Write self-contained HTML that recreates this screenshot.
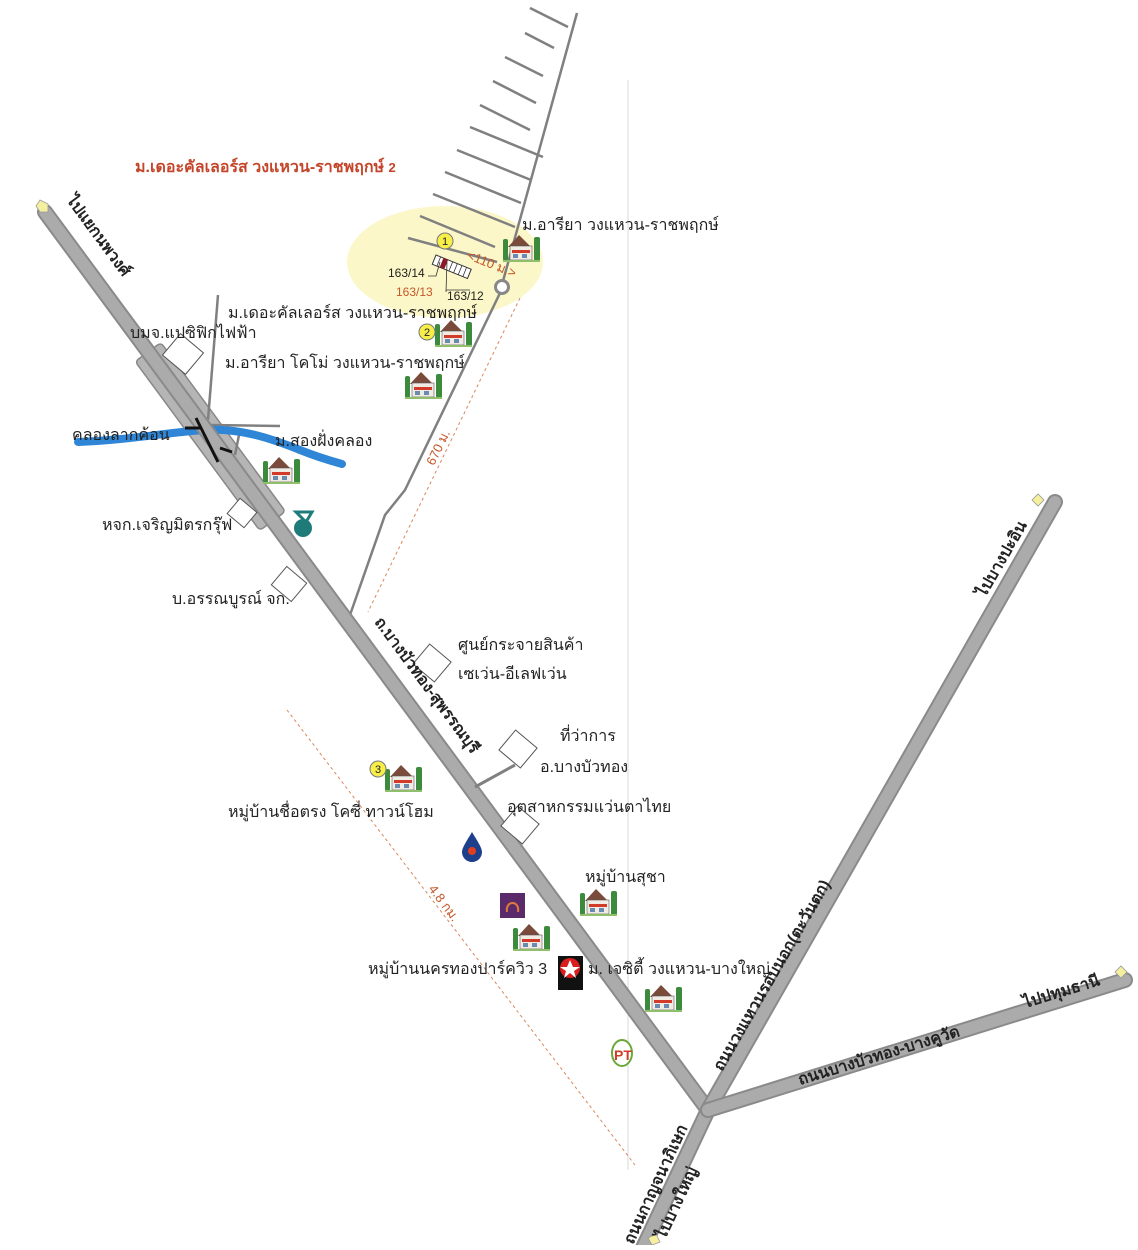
<!DOCTYPE html>
<html><head><meta charset="utf-8"><style>
html,body{margin:0;padding:0;background:#fff}
svg text{font-family:"Liberation Sans","Noto Sans CJK SC",sans-serif;fill:#222}
</style></head><body>
<svg width="1138" height="1245" viewBox="0 0 1138 1245" xmlns="http://www.w3.org/2000/svg">
<defs>
<g id="house">
<rect x="0" y="6" width="5" height="22" rx="2" fill="#3c8a3c"/>
<rect x="31" y="4" width="6" height="24" rx="2" fill="#3c8a3c"/>
<polygon points="5,14 16,2 28,14" fill="#7a4a3a"/>
<rect x="7" y="13" width="22" height="14" fill="#f0ece4" stroke="#555" stroke-width="0.6"/>
<rect x="9" y="17" width="18" height="3" fill="#d23a2a"/>
<rect x="10" y="21" width="5" height="4" fill="#6a8ab0"/>
<rect x="19" y="21" width="5" height="4" fill="#6a8ab0"/>
<rect x="0" y="27" width="37" height="2" fill="#8fbf6a"/>
</g>
</defs>

<line x1="628" y1="80" x2="628" y2="1170" stroke="#d8d8d8" stroke-width="1"/>

<ellipse cx="445" cy="262" rx="98" ry="56" fill="#fbf7c8"/>

<g stroke="#808080" stroke-width="2.5" fill="none">
<polyline points="350,615 385,515 405,490 500,293"/>
<line x1="503" y1="281" x2="577" y2="13"/>
<line x1="530" y1="8" x2="568" y2="27"/>
<line x1="525" y1="33" x2="554" y2="48"/>
<line x1="505" y1="57" x2="543" y2="76"/>
<line x1="493" y1="81" x2="536" y2="103"/>
<line x1="480" y1="105" x2="530" y2="130"/>
<line x1="470" y1="127" x2="543" y2="157"/>
<line x1="457" y1="150" x2="531" y2="180"/>
<line x1="445" y1="172" x2="521" y2="203"/>
<line x1="433" y1="194" x2="515" y2="227"/>
<line x1="420" y1="216" x2="495" y2="247"/>
<line x1="408" y1="238" x2="497" y2="262"/>
</g>
<circle cx="502" cy="287" r="6.5" fill="#fff" stroke="#888" stroke-width="3"/>
<g transform="translate(436,255) rotate(22)">
<rect x="0" y="0" width="38" height="10" fill="#fff" stroke="#333" stroke-width="1"/>
<rect x="8" y="0" width="5" height="10" fill="#8a1a2a"/>
<g stroke="#333" stroke-width="0.8"><line x1="18" y1="0" x2="18" y2="10"/><line x1="23" y1="0" x2="23" y2="10"/><line x1="28" y1="0" x2="28" y2="10"/><line x1="33" y1="0" x2="33" y2="10"/><line x1="5" y1="0" x2="5" y2="10"/></g>
</g>
<g stroke="#333" stroke-width="0.8" fill="none">
<polyline points="428,276 436,276 440,262"/>
<line x1="447" y1="262" x2="446" y2="292"/>
<line x1="446" y1="290" x2="470" y2="290"/>
</g>
<text x="388" y="277" font-size="12">163/14</text>
<text x="396" y="296" font-size="12" style="fill:#c4572a">163/13</text>
<text x="447" y="300" font-size="12">163/12</text>
<text x="465" y="264" font-size="13" style="fill:#c4572a" transform="rotate(22 480 264)">&lt;110 ม.&gt;</text>

<g stroke="#d9885a" stroke-width="1" stroke-dasharray="3,3" fill="none">
<line x1="520" y1="298" x2="368" y2="612"/>
<line x1="287" y1="710" x2="635" y2="1165"/>
</g>
<text x="430" y="460" font-size="13" style="fill:#c4572a" transform="rotate(-64 437 460)">670 ม.</text>
<text x="420" y="905" font-size="13" style="fill:#c4572a" transform="rotate(53 440 905)">4.8 กม.</text>

<g transform="translate(148,352) rotate(53.6)">
<rect x="0" y="-16" width="210" height="32" rx="4" fill="#b5b5b5" stroke="#888" stroke-width="1.5"/>
</g>
<g stroke="#808080" stroke-width="2.5" fill="none">
<line x1="218" y1="295" x2="208" y2="420"/>
<line x1="210" y1="425" x2="280" y2="426"/>
<line x1="240" y1="430" x2="235" y2="455"/>
</g>
<path d="M78,442 C130,440 170,432 205,430 C240,428 270,438 300,450 C320,458 335,462 342,464" stroke="#2f86d6" stroke-width="8" fill="none" stroke-linecap="round"/>

<g stroke-linecap="round">
<line x1="45" y1="212" x2="708" y2="1110" stroke="#8a8a8a" stroke-width="16"/>
<line x1="45" y1="212" x2="708" y2="1110" stroke="#ababab" stroke-width="12"/>
<line x1="708" y1="1110" x2="642" y2="1250" stroke="#8a8a8a" stroke-width="16"/>
<line x1="708" y1="1110" x2="642" y2="1250" stroke="#ababab" stroke-width="12"/>
<line x1="708" y1="1110" x2="1055" y2="502" stroke="#8a8a8a" stroke-width="16"/>
<line x1="708" y1="1110" x2="1055" y2="502" stroke="#ababab" stroke-width="12"/>
<line x1="708" y1="1110" x2="1125" y2="980" stroke="#8a8a8a" stroke-width="16"/>
<line x1="708" y1="1110" x2="1125" y2="980" stroke="#ababab" stroke-width="12"/>
</g>
<g stroke="#111" stroke-width="3"><line x1="196" y1="418" x2="218" y2="462"/><line x1="185" y1="428" x2="200" y2="428"/><line x1="220" y1="448" x2="232" y2="452"/></g>
<line x1="475" y1="787" x2="515" y2="765" stroke="#808080" stroke-width="3"/>

<g fill="#fff" stroke="#555" stroke-width="1">
<rect x="168" y="340" width="30" height="28" transform="rotate(40 183 354)"/>
<rect x="231" y="503" width="22" height="20" transform="rotate(40 242 513)"/>
<rect x="276" y="572" width="26" height="24" transform="rotate(40 289 584)"/>
<rect x="418" y="650" width="28" height="26" transform="rotate(40 432 663)"/>
<rect x="504" y="736" width="28" height="26" transform="rotate(40 518 749)"/>
<rect x="506" y="812" width="28" height="26" transform="rotate(40 520 825)"/>
</g>

<g fill="#f5f0a0" stroke="#999" stroke-width="0.8">
<polygon points="40,200 48,204 48,212 40,212 36,206"/>
<polygon points="1032,500 1038,494 1044,500 1038,506"/>
<polygon points="1115,972 1121,966 1127,972 1121,978"/>
<polygon points="648,1238 656,1234 660,1242 652,1245"/>
</g>

<use href="#house" x="503" y="233"/>
<use href="#house" x="435" y="318"/>
<use href="#house" x="405" y="370"/>
<use href="#house" x="263" y="455"/>
<use href="#house" x="385" y="763"/>
<use href="#house" x="580" y="887"/>
<use href="#house" x="513" y="922"/>
<use href="#house" x="645" y="983"/>

<g font-size="11" text-anchor="middle">
<circle cx="445" cy="241" r="8" fill="#f7ee4a" stroke="#777"/><text x="445" y="245">1</text>
<circle cx="427" cy="332" r="8" fill="#f7ee4a" stroke="#777"/><text x="427" y="336">2</text>
<circle cx="378" cy="769" r="8" fill="#f7ee4a" stroke="#777"/><text x="378" y="773">3</text>
</g>

<circle cx="303" cy="528" r="9" fill="#1f7a7a"/><polygon points="296,512 312,512 306,522" fill="none" stroke="#1f7a7a" stroke-width="3"/>
<path d="M472,832 C466,842 462,848 462,852 A10,10 0 0 0 482,852 C482,848 478,842 472,832Z" fill="#1e3f8c"/><circle cx="472" cy="851" r="4" fill="#e04020"/>
<rect x="500" y="893" width="25" height="25" fill="#5a2a6a"/><path d="M507,912 C505,900 520,900 518,912" stroke="#e07a3a" stroke-width="2" fill="none"/>
<rect x="558" y="956" width="25" height="34" fill="#111"/><circle cx="570" cy="968" r="10" fill="#d81e1e"/><polygon points="570,960 573,967 580,967 574,971 576,978 570,973 564,978 566,971 560,967 567,967" fill="#fff"/>
<ellipse cx="622" cy="1053" rx="10" ry="13" fill="#fff" stroke="#6aa83a" stroke-width="2"/><text x="614" y="1060" font-size="14" font-weight="bold" style="fill:#d23a2a">PT</text>

<text x="135" y="172" font-size="16" font-weight="bold" style="fill:#c4452a">ม.เดอะคัลเลอร์ส วงแหวน-ราชพฤกษ์ <tspan font-size="13">2</tspan></text>
<g font-size="16">
<text x="522" y="230">ม.อารียา วงแหวน-ราชพฤกษ์</text>
<text x="228" y="318">ม.เดอะคัลเลอร์ส วงแหวน-ราชพฤกษ์</text>
<text x="130" y="338">บมจ.แปซิฟิกไฟฟ้า</text>
<text x="225" y="368">ม.อารียา โคโม่ วงแหวน-ราชพฤกษ์</text>
<text x="72" y="440">คลองลากค้อน</text>
<text x="275" y="446">ม.สองฝั่งคลอง</text>
<text x="102" y="530">หจก.เจริญมิตรกรุ๊ฟ</text>
<text x="172" y="604">บ.อรรณบูรณ์ จก.</text>
<text x="458" y="650">ศูนย์กระจายสินค้า</text>
<text x="458" y="679">เซเว่น-อีเลฟเว่น</text>
<text x="560" y="741">ที่ว่าการ</text>
<text x="540" y="772">อ.บางบัวทอง</text>
<text x="507" y="812">อุตสาหกรรมแว่นตาไทย</text>
<text x="228" y="817">หมู่บ้านชื่อตรง โคซี่ ทาวน์โฮม</text>
<text x="585" y="882">หมู่บ้านสุชา</text>
<text x="368" y="974">หมู่บ้านนครทองปาร์ควิว 3</text>
<text x="588" y="974">ม. เจซิตี้ วงแหวน-บางใหญ่</text>
</g>
<g font-size="16" font-weight="bold" style="fill:#111">
<text x="66" y="200" transform="rotate(53.6 66 200)">ไปแยกนพวงศ์</text>
<text x="374" y="622" transform="rotate(53.6 374 622)">ถ.บางบัวทอง-สุพรรณบุรี</text>
<text x="722" y="1072" transform="rotate(-60 722 1072)">ถนนวงแหวนรอบนอก(ตะวันตก)</text>
<text x="985" y="598" transform="rotate(-60 985 598)">ไปบางปะอิน</text>
<text x="800" y="1085" transform="rotate(-17 800 1085)">ถนนบางบัวทอง-บางคูวัด</text>
<text x="1025" y="1008" transform="rotate(-17 1025 1008)">ไปปทุมธานี</text>
<text x="633" y="1245" transform="rotate(-65 633 1245)">ถนนกาญจนาภิเษก</text>
<text x="665" y="1240" transform="rotate(-65 665 1240)">ไปบางใหญ่</text>
</g>
</svg>
</body></html>
